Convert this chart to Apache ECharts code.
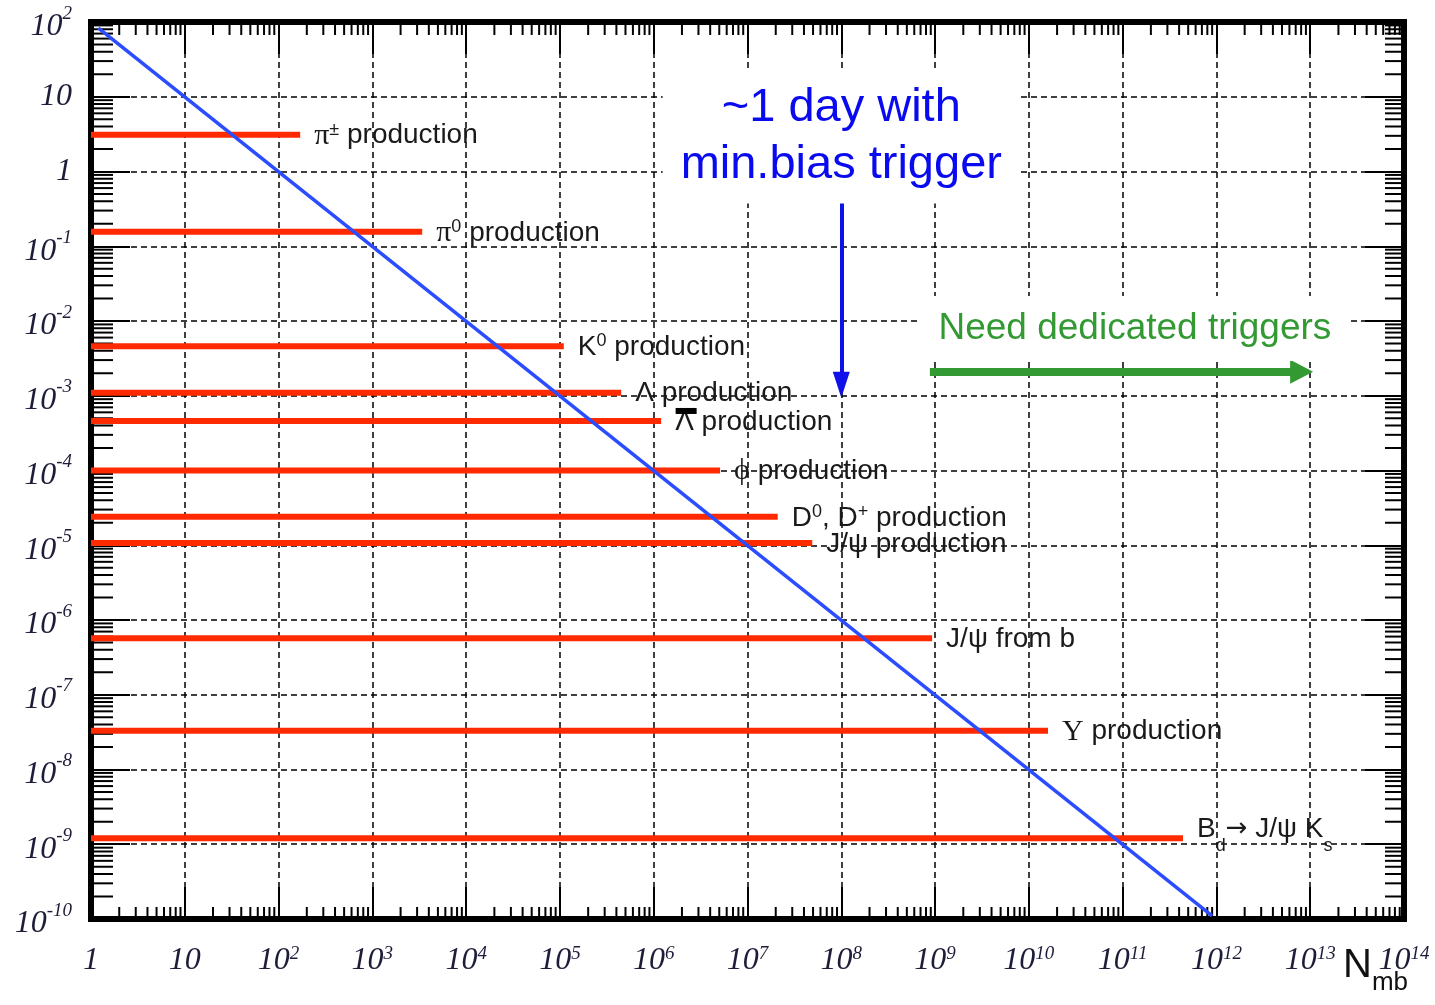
<!DOCTYPE html>
<html>
<head>
<meta charset="utf-8">
<title>Rates vs. number of minimum-bias events</title>
<script src="https://cdn.jsdelivr.net/npm/echarts@6/dist/echarts.min.js"></script>
<style>
  html, body { margin: 0; padding: 0; background: #ffffff; }
  #chart { width: 1435px; height: 1005px; }
</style>
</head>
<body>
<div id="chart"></div>
<script>
// ---- axis ranges and tick labels ----
const X_MIN = 1, X_MAX = 1e14;
const Y_MIN = 1e-10, Y_MAX = 1e2;

// labels for x = 10^0 ... 10^14
const xTickLabels = [
  '{b|1}', '{b|10}', '{b|10}{sup|2}', '{b|10}{sup|3}', '{b|10}{sup|4}',
  '{b|10}{sup|5}', '{b|10}{sup|6}', '{b|10}{sup|7}', '{b|10}{sup|8}',
  '{b|10}{sup|9}', '{b|10}{sup|10}', '{b|10}{sup|11}', '{b|10}{sup|12}',
  '{b|10}{sup|13}', '{b|10}{sup|14}'
];
// labels for y = 10^-10 ... 10^2
const yTickLabels = [
  '{bp|10}{sup|-10}', '{bp|10}{sup|-9}', '{bp|10}{sup|-8}', '{bp|10}{sup|-7}',
  '{bp|10}{sup|-6}', '{bp|10}{sup|-5}', '{bp|10}{sup|-4}', '{bp|10}{sup|-3}',
  '{bp|10}{sup|-2}', '{bp|10}{sup|-1}', '{b|1}', '{b|10}', '{bp|10}{sup|2}'
];

// ---- production channels: rate per min.bias event and reach in N_mb ----
const channelLabels = [
  '{g|π}{sup|±}{t| production}',
  '{g|π}{sup|0}{t| production}',
  '{t|K}{sup|0}{t| production}',
  '{t|Λ production}',
  '{t|Λ production}',
  '{g|ϕ}{t| production}',
  '{t|D}{sup|0}{t|, D}{sup|+}{t| production}',
  '{t|J/ψ production}',
  '{t|J/ψ from b}',
  '{g|Υ}{t| production}',
  '{tb|B}{sub|d}{ar|→}{tb| J/ψ K}{sub|s}'
];
const channelRates = [3.1, 0.156, 4.6e-3, 1.1e-3, 4.6e-4, 1.0e-4, 2.4e-5, 1.07e-5, 5.7e-7, 3.3e-8, 1.2e-9];
const channelReach = [170, 3400, 1.1e5, 4.5e5, 1.2e6, 5.1e6, 2.1e7, 4.9e7, 9.3e8, 1.6e10, 4.4e11];

// ---- events needed vs. rate (min.bias line) ----
const minBiasN = [1.2, 9e11];
const minBiasRate = [83, 1.1e-10];

// ---- annotation anchors ----
const dayArrowN = 1e8;
const dayArrowRates = [0.42, 1.4e-3];
const dayTextAnchor = [1e8, 2.95];
const dedicatedArrowN = [8.8e8, 8.1e12];
const dedicatedArrowRate = 2.1e-3;
const dedicatedTextAnchor = [1.35e11, 7.96e-3];

// minor tick positions (2..9 x 10^k)
const minorX = [];
for (let e = 0; e < 14; e++) for (let m = 2; m <= 9; m++) minorX.push([m * Math.pow(10, e), 1]);
const minorY = [];
for (let e = -10; e < 2; e++) for (let m = 2; m <= 9; m++) minorY.push([1, m * Math.pow(10, e)]);

const RED = '#ff2a00';
const BLUE = '#2b4dff';
const GREEN = '#339a33';
const INK = '#1d1d3a';
const TXT = '#1a1a1a';

const expOf = v => Math.round(Math.log10(v));

const xTickRich = {
  b: { fontFamily: 'Liberation Serif', fontStyle: 'italic', fontSize: 32, lineHeight: 34, color: INK },
  sup: { fontFamily: 'Liberation Serif', fontStyle: 'italic', fontSize: 19, lineHeight: 16, verticalAlign: 'top', color: INK }
};
const yTickRich = {
  b: { fontFamily: 'Liberation Serif', fontStyle: 'italic', fontSize: 32, lineHeight: 34, color: INK },
  bp: { fontFamily: 'Liberation Serif', fontStyle: 'italic', fontSize: 32, lineHeight: 34, padding: [10, 0, 0, 0], color: INK },
  sup: { fontFamily: 'Liberation Serif', fontStyle: 'italic', fontSize: 19, lineHeight: 36, verticalAlign: 'top', color: INK }
};

const labelRich = {
  t: { fontFamily: 'Liberation Sans', fontSize: 28, lineHeight: 30, color: TXT },
  tb: { fontFamily: 'Liberation Sans', fontSize: 28, lineHeight: 52, color: TXT },
  ar: { fontFamily: 'DejaVu Sans', fontSize: 26, lineHeight: 52, color: TXT },
  g: { fontFamily: 'Liberation Serif', fontSize: 30, lineHeight: 30, color: TXT },
  sup: { fontFamily: 'Liberation Sans', fontSize: 18, lineHeight: 22, verticalAlign: 'top', color: TXT },
  sub: { fontFamily: 'Liberation Sans', fontSize: 18, lineHeight: 16, verticalAlign: 'bottom', color: TXT }
};

// horizontal rate lines, one series per channel
const channelSeries = channelRates.map((rate, i) => {
  const s = {
    type: 'line',
    name: 'ch' + i,
    data: [[X_MIN, rate], [channelReach[i], rate]],
    showSymbol: false,
    symbol: 'none',
    lineStyle: { color: RED, width: 6, cap: 'butt' },
    z: 3,
    silent: true,
    endLabel: {
      show: true,
      distance: 14,
      offset: i === 10 ? [0, -9] : [0, 1],
      formatter: () => channelLabels[i],
      rich: labelRich
    }
  };
  if (i === 4) {
    // bar over the anti-Lambda
    s.markPoint = {
      silent: true,
      symbol: 'rect',
      symbolSize: [21, 6],
      symbolOffset: [25, -10],
      itemStyle: { color: '#000' },
      label: { show: false },
      data: [{ coord: [channelReach[i], rate] }]
    };
  }
  return s;
});

const option = {
  animation: false,
  backgroundColor: '#ffffff',
  grid: {
    left: 91, right: 31, top: 22, bottom: 86,
    show: true, borderColor: '#000', borderWidth: 6, backgroundColor: 'transparent'
  },
  xAxis: [
    {
      type: 'log', logBase: 10, min: X_MIN, max: X_MAX, interval: 1,
      position: 'bottom',
      axisLine: { show: false },
      axisTick: { show: true, inside: true, length: 32, lineStyle: { color: '#000', width: 2 } },
      axisLabel: {
        show: true, margin: 25, showMinLabel: true, showMaxLabel: true,
        formatter: v => xTickLabels[expOf(v)],
        rich: xTickRich
      },
      splitLine: { show: true, lineStyle: { color: '#000', width: 1.5, type: [6, 4] } }
    },
    {
      type: 'log', logBase: 10, min: X_MIN, max: X_MAX, interval: 1,
      position: 'top',
      axisLine: { show: false },
      axisTick: { show: true, inside: true, length: 32, lineStyle: { color: '#000', width: 2 } },
      axisLabel: { show: false },
      splitLine: { show: false }
    }
  ],
  yAxis: [
    {
      type: 'log', logBase: 10, min: Y_MIN, max: Y_MAX, interval: 1,
      position: 'left',
      axisLine: { show: false },
      axisTick: { show: true, inside: true, length: 39, lineStyle: { color: '#000', width: 2 } },
      axisLabel: {
        show: true, margin: 19, showMinLabel: true, showMaxLabel: true,
        formatter: v => yTickLabels[expOf(v) + 10],
        rich: yTickRich
      },
      splitLine: { show: true, lineStyle: { color: '#000', width: 1.5, type: [6, 4] } }
    },
    {
      type: 'log', logBase: 10, min: Y_MIN, max: Y_MAX, interval: 1,
      position: 'right',
      axisLine: { show: false },
      axisTick: { show: true, inside: true, length: 39, lineStyle: { color: '#000', width: 2 } },
      axisLabel: { show: false },
      splitLine: { show: false }
    }
  ],
  graphic: [
    {
      type: 'text', left: 1343, top: 946, silent: true,
      style: {
        text: '{n|N}{s|mb}',
        rich: {
          n: { fontFamily: 'Liberation Sans', fontSize: 40, lineHeight: 60, fill: '#111' },
          s: { fontFamily: 'Liberation Sans', fontSize: 26, lineHeight: 26, verticalAlign: 'bottom', fill: '#111' }
        }
      }
    }
  ],
  series: [
    // minor ticks along bottom and top
    {
      type: 'custom', silent: true, clip: false, z: 1,
      data: minorX, encode: { x: 0, y: 1 },
      renderItem: (params, api) => {
        const v = api.value(0);
        const b = api.coord([v, Y_MIN]);
        const t = api.coord([v, Y_MAX]);
        return {
          type: 'group', children: [
            { type: 'line', shape: { x1: b[0], y1: b[1], x2: b[0], y2: b[1] - 12 }, style: { stroke: '#000', lineWidth: 2 } },
            { type: 'line', shape: { x1: t[0], y1: t[1], x2: t[0], y2: t[1] + 13 }, style: { stroke: '#000', lineWidth: 2 } }
          ]
        };
      }
    },
    // minor ticks along left and right
    {
      type: 'custom', silent: true, clip: false, z: 1,
      data: minorY, encode: { x: 0, y: 1 },
      renderItem: (params, api) => {
        const v = api.value(1);
        const l = api.coord([X_MIN, v]);
        const r = api.coord([X_MAX, v]);
        return {
          type: 'group', children: [
            { type: 'line', shape: { x1: l[0], y1: l[1], x2: l[0] + 22, y2: l[1] }, style: { stroke: '#000', lineWidth: 2 } },
            { type: 'line', shape: { x1: r[0], y1: r[1], x2: r[0] - 19, y2: r[1] }, style: { stroke: '#000', lineWidth: 2 } }
          ]
        };
      }
    },
    ...channelSeries,
    // events needed vs rate, plus annotations
    {
      type: 'line', name: 'minbias',
      data: [[minBiasN[0], minBiasRate[0]], [minBiasN[1], minBiasRate[1]]],
      showSymbol: false, symbol: 'none', silent: true, z: 4,
      lineStyle: { color: BLUE, width: 3.5 },
      markLine: {
        silent: true,
        animation: false,
        label: { show: false },
        data: [
          [
            { coord: [dayArrowN, dayArrowRates[0]], symbol: 'none', lineStyle: { color: '#1010e8', width: 4, type: 'solid' } },
            { coord: [dayArrowN, dayArrowRates[1]], symbol: 'triangle', symbolSize: [17, 26] }
          ],
          [
            { coord: [dedicatedArrowN[0], dedicatedArrowRate], symbol: 'none', lineStyle: { color: GREEN, width: 8, type: 'solid' } },
            { coord: [dedicatedArrowN[1], dedicatedArrowRate], symbol: 'triangle', symbolSize: [24, 23] }
          ]
        ]
      },
      markPoint: {
        silent: true,
        symbol: 'rect', symbolSize: 1,
        itemStyle: { color: 'rgba(0,0,0,0)' },
        data: [
          {
            coord: dayTextAnchor,
            label: {
              show: true, position: 'inside',
              formatter: '~1 day with\nmin.bias trigger',
              fontFamily: 'Liberation Sans', fontSize: 47, lineHeight: 57,
              color: '#0a0aee', align: 'center',
              backgroundColor: '#ffffff', padding: [10, 18]
            }
          },
          {
            coord: dedicatedTextAnchor,
            label: {
              show: true, position: 'inside',
              formatter: 'Need dedicated triggers',
              fontFamily: 'Liberation Sans', fontSize: 37, lineHeight: 45,
              color: GREEN, align: 'center',
              backgroundColor: '#ffffff', padding: [10, 19]
            }
          }
        ]
      }
    }
  ]
};

const chart = echarts.init(document.getElementById('chart'), null, { renderer: 'canvas' });
chart.setOption(option);
</script>
</body>
</html>
